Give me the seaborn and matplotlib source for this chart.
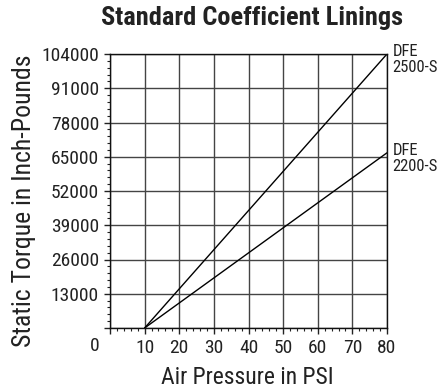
import pandas as pd
import seaborn as sns
import matplotlib.pyplot as plt
from matplotlib.ticker import MultipleLocator

# data
pressure = [10, 80]
torque_2500 = [0, 104000]
torque_2200 = [0, 66500]
models = ["DFE\n2500-S", "DFE\n2200-S"]
yticks = [0, 13000, 26000, 39000, 52000, 65000, 78000, 91000, 104000]
xticks = [0, 10, 20, 30, 40, 50, 60, 70, 80]

df = pd.DataFrame({
    "pressure": pressure + pressure,
    "torque": torque_2500 + torque_2200,
    "model": [models[0]] * 2 + [models[1]] * 2,
})

sns.set_style("white")
plt.rcParams["font.family"] = ["Roboto Condensed", "Barlow Condensed", "DejaVu Sans"]
plt.rcParams["text.color"] = "#222222"

fig = plt.figure(figsize=(4.47, 3.92), dpi=100)
ax = fig.add_axes([110 / 447, 1 - 328 / 392, 277 / 447, 274 / 392])

sns.lineplot(data=df, x="pressure", y="torque", hue="model",
             palette=["black", "black"], linewidth=1, legend=False, ax=ax)

ax.set_xlim(0, 80)
ax.set_ylim(0, 104000)
ax.set_xticks(xticks)
ax.set_xticklabels([""] + [str(v) for v in xticks[1:]])
ax.set_yticks(yticks)
ax.set_yticklabels([""] + [str(v) for v in yticks[1:]])
ax.xaxis.set_minor_locator(MultipleLocator(2))
ax.yaxis.set_minor_locator(MultipleLocator(2600))
ax.tick_params(which="major", direction="out", length=4, width=1,
               labelsize=14, colors="#222222", pad=4, bottom=True, left=True)
ax.tick_params(which="minor", direction="out", length=2, width=0.8,
               colors="#222222", bottom=True, left=True)
ax.grid(True, which="major", color="#444444", linewidth=1)
for s in ax.spines.values():
    s.set_color("#111111")
    s.set_linewidth(1)
ax.set_xlabel("")
ax.set_ylabel("")

# origin label
ax.annotate("0", xy=(0, 0), xycoords="axes fraction", xytext=(-11, -6.5),
            textcoords="offset points", ha="center", va="top", fontsize=14)

# line labels at the right end
for yv, name in [(torque_2500[-1], models[0]), (torque_2200[-1], models[1])]:
    ax.annotate(name, xy=(80, yv), xytext=(4, -4), textcoords="offset points",
                ha="left", va="center", fontsize=12, annotation_clip=False,
                linespacing=1.1)

fig.text(252 / 447, 1 - 18 / 392, "Standard Coefficient Linings",
         ha="center", va="center", fontsize=19, fontweight="black")
fig.text(247 / 447, 1 - 378 / 392, "Air Pressure in PSI",
         ha="center", va="center", fontsize=17)
fig.text(24 / 447, 1 - 201 / 392, "Static Torque in Inch-Pounds",
         ha="center", va="center", fontsize=18.5, rotation=90)

fig.savefig("out.png", dpi=100)
